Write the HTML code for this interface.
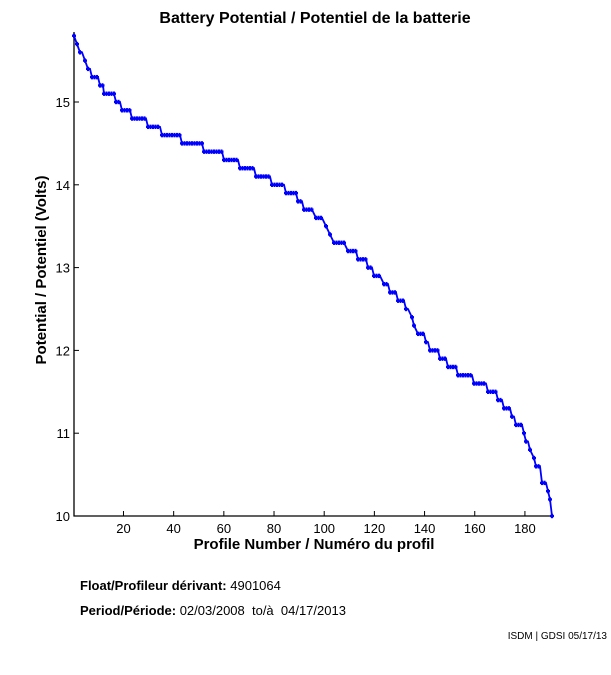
<!DOCTYPE html>
<html><head><style>
body{margin:0;background:#fff;width:611px;height:675px;overflow:hidden;font-family:"Liberation Sans",Arial,sans-serif}
svg{position:absolute;left:0;top:0}
</style></head><body>
<svg id="s" width="611" height="675" xmlns="http://www.w3.org/2000/svg" font-family="Liberation Sans, Arial, sans-serif">
<text x="315" y="23" font-size="16" font-weight="bold" text-anchor="middle">Battery Potential / Potentiel de la batterie</text>
<line x1="74" y1="32" x2="74" y2="516.5" stroke="#000" stroke-width="1.3"/>
<line x1="73.5" y1="516" x2="553" y2="516" stroke="#000" stroke-width="1.3"/>
<g id="ticks" font-size="13" fill="#000"></g>
<text x="314" y="549" font-size="15" font-weight="bold" text-anchor="middle">Profile Number / Numéro du profil</text>
<text transform="translate(46,270) rotate(-90)" font-size="15" font-weight="bold" text-anchor="middle">Potential / Potentiel (Volts)</text>
<polyline id="pl" fill="none" stroke="#0000ff" stroke-width="1.8"/>
<g id="mk" fill="#0000ff"></g>
<text x="80" y="590" font-size="13"><tspan font-weight="bold">Float/Profileur dérivant:</tspan> 4901064</text>
<text x="80" y="615" font-size="13"><tspan font-weight="bold">Period/Période:</tspan> 02/03/2008 &#160;to/à &#160;04/17/2013</text>
<text x="607" y="639" font-size="10" text-anchor="end">ISDM | GDSI 05/17/13</text>
</svg>
<script>
var t=document.getElementById('ticks'),ns='http://www.w3.org/2000/svg';
function el(n,a,p,txt){var e=document.createElementNS(ns,n);for(var k in a)e.setAttribute(k,a[k]);if(txt)e.textContent=txt;p.appendChild(e);return e;}
function X(p){return 73.3+p*2.509}
function Y(v){return 516-(v-10)*82.8}
for(var p=20;p<=180;p+=20){var x=X(p);el('line',{x1:x,y1:516,x2:x,y2:511,stroke:'#000'},t);el('text',{x:x,y:533,'text-anchor':'middle'},t,String(p));}
for(var v=10;v<=15;v++){var y=Y(v);el('line',{x1:74,y1:y,x2:79,y2:y,stroke:'#000'},t);el('text',{x:70,y:y+5,'text-anchor':'end'},t,String(v));}
var st=[[74,74,15.8],[77,77,15.7],[80,82,15.6],[85,85,15.5],[88,90,15.4],[92,98,15.3],[100,103,15.2],[104,114,15.1],[116,120,15.0],[122,130,14.9],[132,146,14.8],[148,160,14.7],[162,180,14.6],[182,202,14.5],[204,222,14.4],[224,238,14.3],[240,254,14.2],[256,270,14.1],[272,284,14.0],[286,296,13.9],[298,302,13.8],[304,312,13.7],[316,322,13.6],[326,326,13.5],[330,330,13.4],[334,344,13.3],[348,356,13.2],[358,366,13.1],[368,372,13.0],[374,380,12.9],[384,388,12.8],[390,396,12.7],[398,404,12.6],[406,408,12.5],[412,412,12.4],[414,414,12.3],[418,424,12.2],[426,428,12.1],[430,438,12.0],[440,446,11.9],[448,456,11.8],[458,472,11.7],[474,486,11.6],[488,496,11.5],[498,502,11.4],[504,510,11.3],[512,514,11.2],[516,522,11.1],[524,524,11.0],[526,528,10.9],[530,530,10.8],[534,534,10.7],[536,540,10.6],[542,546,10.4],[548,548,10.3],[550,550,10.2],[552,552,10.0]];
var pts=[],mk=document.getElementById('mk');
st.forEach(function(s){var y=Y(s[2]);pts.push(s[0]+','+y);if(s[1]>s[0])pts.push(s[1]+','+y);
for(var x=s[0];x<=s[1]+0.1;x+=2.5){el('rect',{x:x-2,y:y-1.2,width:4,height:2.4},mk);el('rect',{x:x-1,y:y-2.2,width:2,height:4.4},mk);}});
document.getElementById('pl').setAttribute('points',pts.join(' '));
</script>
</body></html>
